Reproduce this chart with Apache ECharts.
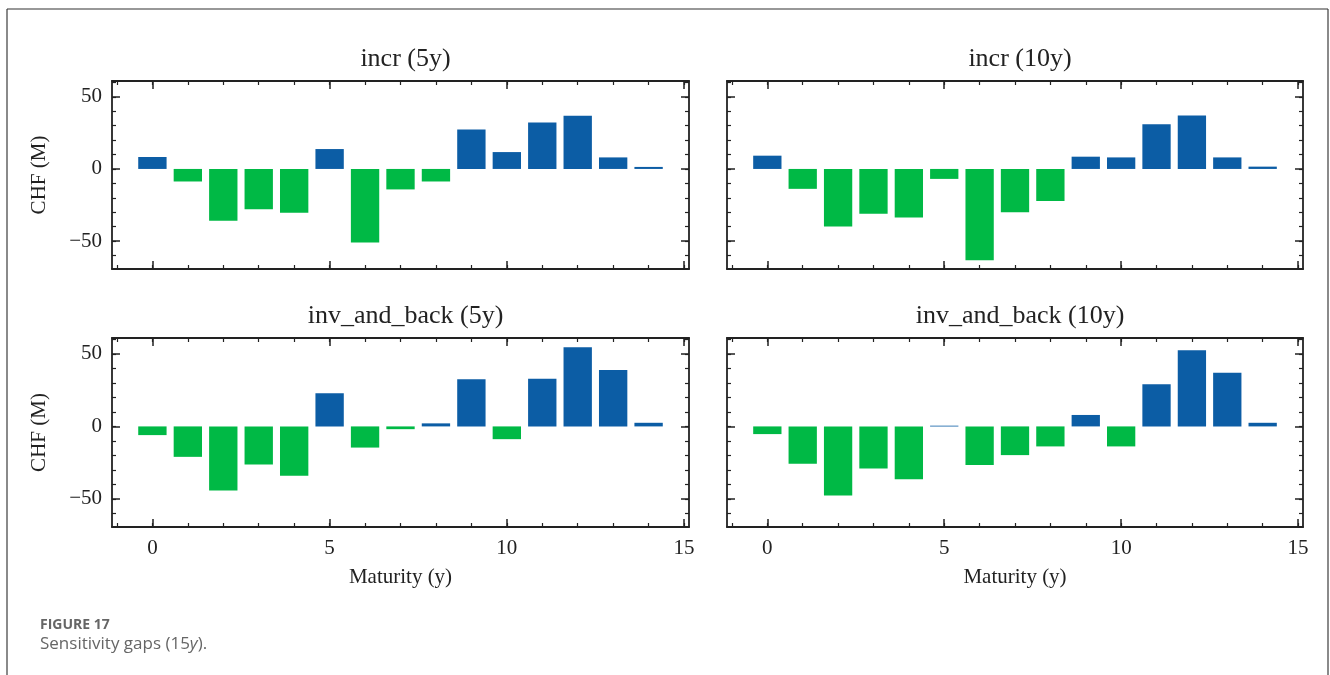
<!DOCTYPE html>
<html><head><meta charset="utf-8">
<script src="https://cdn.jsdelivr.net/npm/echarts@6/dist/echarts.min.js"></script>
<style>html,body{margin:0;padding:0;background:#fff}#c{width:1330px;height:675px}</style>
</head><body><div id="c"></div>
<script>
// ---------------- data ----------------
const maturities = [0, 1, 2, 3, 4, 5, 6, 7, 8, 9, 10, 11, 12, 13, 14];
const incr5y      = [8.3, -8.7, -36.0, -28.0, -30.3, 13.8, -51.1, -14.2, -8.7, 27.3, 11.7, 32.3, 36.9, 8.0, 1.4];
const incr10y     = [9.2, -13.8, -40.0, -31.0, -33.6, -6.9, -63.4, -30.1, -22.3, 8.5, 8.0, 31.0, 37.0, 8.0, 1.6];
const invBack5y   = [-6.0, -21.0, -44.2, -26.3, -34.0, 22.9, -14.6, -1.9, 2.1, 32.6, -8.8, 32.9, 54.6, 38.9, 2.5];
const invBack10y  = [-5.3, -25.8, -47.6, -29.0, -36.4, 0.5, -26.7, -19.8, -13.8, 7.9, -13.8, 29.1, 52.6, 37.1, 2.5];
const panelSeries = [incr5y, incr10y, invBack5y, invBack10y];
const panelTitles = ['incr (5y)', 'incr (10y)', 'inv_and_back (5y)', 'inv_and_back (10y)'];
const xMajorTicks = [0, 5, 10, 15];
const xMinorTicks = [-1, 0, 1, 2, 3, 4, 5, 6, 7, 8, 9, 10, 11, 12, 13, 14, 15];
const yMajorTicks = [-50, 0, 50];
const yMinorTicks = [-60, -50, -40, -30, -20, -10, 0, 10, 20, 30, 40, 50, 60];
const yAxisTitle = 'CHF (M)';
const xAxisTitle = 'Maturity (y)';
const captionLabel = 'FIGURE 17';
const captionText = 'Sensitivity gaps (15{i|y}).';

// ---------------- style / layout ----------------
const BLUE = '#0C5DA5', GREEN = '#00B945', INK = '#222222';
const SERIF = '"Liberation Serif", "DejaVu Serif", serif';
const X_MIN = -1.14, X_MAX = 15.14, Y_MIN = -69.4, Y_MAX = 61.0, BAR_W = 0.8;
const grids = [
  {left: 112, top: 81,  width: 577, height: 188},
  {left: 727, top: 81,  width: 576, height: 188},
  {left: 112, top: 338, width: 577, height: 189},
  {left: 727, top: 338, width: 576, height: 189}
];
const fmt = v => String(v).replace('-', '\u2212');

const xAxes = [], yAxes = [], series = [], titles = [];
grids.forEach((g, gi) => {
  const showX = gi >= 2, showY = gi % 2 === 0;
  const base = {gridIndex: gi, type: 'value', min: X_MIN, max: X_MAX, splitLine: {show: false}};
  const ybase = {gridIndex: gi, type: 'value', min: Y_MIN, max: Y_MAX, splitLine: {show: false}};
  const line = {show: true, onZero: false, lineStyle: {color: INK, width: 1.8}};
  const tickMaj = vals => ({show: true, inside: true, length: 8, customValues: vals, lineStyle: {color: INK, width: 1.5}});
  const tickMin = vals => ({show: true, inside: true, length: 4, customValues: vals, lineStyle: {color: INK, width: 1.2}});
  ['bottom', 'top'].forEach(pos => {
    const lab = pos === 'bottom' && showX;
    xAxes.push(Object.assign({}, base, {
      position: pos, axisLine: line, axisTick: tickMaj(xMajorTicks),
      axisLabel: lab ? {show: true, customValues: xMajorTicks, formatter: fmt, fontFamily: SERIF, fontSize: 21, color: INK, margin: 11} : {show: false},
      name: lab ? xAxisTitle : '', nameLocation: 'middle', nameGap: 40,
      nameTextStyle: {fontFamily: SERIF, fontSize: 21, color: INK}
    }));
    xAxes.push(Object.assign({}, base, {
      position: pos, axisLine: {show: false, onZero: false}, axisTick: tickMin(xMinorTicks), axisLabel: {show: false}
    }));
  });
  ['left', 'right'].forEach(pos => {
    const lab = pos === 'left' && showY;
    yAxes.push(Object.assign({}, ybase, {
      position: pos, axisLine: line, axisTick: tickMaj(yMajorTicks),
      axisLabel: lab ? {show: true, customValues: yMajorTicks, formatter: fmt, fontFamily: SERIF, fontSize: 21, color: INK, margin: 10} : {show: false},
      name: lab ? yAxisTitle : '', nameLocation: 'middle', nameGap: 62, nameRotate: 90,
      nameTextStyle: {fontFamily: SERIF, fontSize: 21, color: INK}
    }));
    yAxes.push(Object.assign({}, ybase, {
      position: pos, axisLine: {show: false, onZero: false}, axisTick: tickMin(yMinorTicks), axisLabel: {show: false}
    }));
  });
  series.push({
    type: 'custom', xAxisIndex: gi * 4, yAxisIndex: gi * 4, clip: true,
    encode: {x: 0, y: 1},
    data: maturities.map((m, i) => [m, panelSeries[gi][i]]),
    renderItem: (params, api) => {
      const x = api.value(0), y = api.value(1);
      const a = api.coord([x - BAR_W / 2, y]);
      const b = api.coord([x + BAR_W / 2, 0]);
      return {type: 'rect',
        shape: {x: a[0], y: Math.min(a[1], b[1]), width: b[0] - a[0], height: Math.max(Math.abs(b[1] - a[1]), 0.8)},
        style: {fill: y >= 0 ? BLUE : GREEN}};
    }
  });
  titles.push({
    text: panelTitles[gi], left: g.left + g.width / 2, top: g.top - 40, textAlign: 'center',
    textStyle: {fontFamily: SERIF, fontSize: 26, fontWeight: 'normal', color: INK}
  });
});

const chart = echarts.init(document.getElementById('c'), null, {renderer: 'canvas'});
chart.setOption({
  animation: false,
  backgroundColor: '#ffffff',
  title: titles,
  grid: grids.map(g => Object.assign({containLabel: false}, g)),
  xAxis: xAxes,
  yAxis: yAxes,
  series: series,
  graphic: [
    {type: 'line', shape: {x1: 7, y1: 9, x2: 7, y2: 675}, style: {stroke: '#8a8a8a', lineWidth: 2}},
    {type: 'line', shape: {x1: 1328, y1: 9, x2: 1328, y2: 675}, style: {stroke: '#8a8a8a', lineWidth: 2}},
    {type: 'line', shape: {x1: 7, y1: 9, x2: 1328, y2: 9}, style: {stroke: '#333333', lineWidth: 1.2}},
    {type: 'text', left: 40, top: 618, style: {text: captionLabel, font: 'bold 14px "Open Sans", sans-serif', fill: '#666666'}},
    {type: 'text', left: 40, top: 636, style: {text: captionText, font: '17px "Open Sans", sans-serif', fill: '#666666',
      rich: {i: {fontStyle: 'italic', fontSize: 17, fontFamily: '"Open Sans", sans-serif', fill: '#666666'}}}}
  ]
});
</script></body></html>
